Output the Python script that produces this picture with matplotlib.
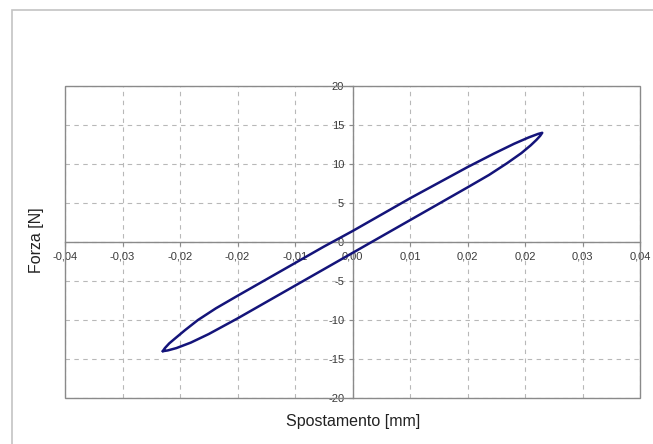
import matplotlib
matplotlib.use("Agg")
import matplotlib.pyplot as plt
from matplotlib.patches import Rectangle

plt.rcParams['font.family'] = ['Liberation Sans', 'DejaVu Sans']

# ---- data ----
# upper branch (lower-left tip -> upper-right tip)
upper_x = [-0.0264, -0.0261, -0.0255, -0.0246, -0.0233, -0.0215, -0.0190, -0.0160,
           -0.0120, -0.0080, -0.0040, 0.0000, 0.0040, 0.0080, 0.0120, 0.0160,
           0.0196, 0.0225, 0.0245, 0.0258, 0.0264]
upper_y = [-14.0, -13.6, -13.0, -12.3, -11.3, -10.0, -8.5, -6.9,
           -4.8, -2.7, -0.6, 1.4, 3.5, 5.6, 7.6, 9.6,
           11.3, 12.6, 13.4, 13.85, 14.0]
# lower branch (upper-right tip -> lower-left tip)
lower_x = [0.0264, 0.0261, 0.0256, 0.0248, 0.0235, 0.0215, 0.0190, 0.0160,
           0.0120, 0.0080, 0.0040, 0.0000, -0.0040, -0.0080, -0.0120, -0.0160,
           -0.0200, -0.0225, -0.0245, -0.0257, -0.0264]
lower_y = [14.0, 13.6, 13.1, 12.4, 11.4, 10.1, 8.6, 7.0,
           4.9, 2.8, 0.7, -1.4, -3.5, -5.6, -7.7, -9.8,
           -11.8, -12.9, -13.6, -13.9, -14.0]

x_ticks = [-0.04, -0.032, -0.024, -0.016, -0.008, 0.0, 0.008, 0.016, 0.024, 0.032, 0.04]
x_tick_labels = ["-0,04", "-0,03", "-0,02", "-0,02", "-0,01", "0,00",
                 "0,01", "0,02", "0,02", "0,03", "0,04"]
y_ticks = [-20, -15, -10, -5, 0, 5, 10, 15, 20]
y_tick_labels = ["-20", "-15", "-10", "-5", "0", "5", "10", "15", "20"]

x_label = "Spostamento [mm]"
y_label = "Forza [N]"

# ---- figure ----
W, H = 653, 444
fig = plt.figure(figsize=(W / 100, H / 100), dpi=100)
fig.patch.set_facecolor("white")

# outer chart-area border
fig.patches.append(Rectangle((12.5 / W, -0.2), 1.5, 1 - 10 / H + 0.2,
                             transform=fig.transFigure, fill=False,
                             edgecolor="#c4c4c4", lw=1.2))

left, right, top, bottom = 65, 640, 86, 398
ax = fig.add_axes([left / W, 1 - bottom / H, (right - left) / W, (bottom - top) / H])

loop_x = upper_x + lower_x
loop_y = upper_y + lower_y
ax.plot(loop_x, loop_y, color="#14147a", lw=1.8, solid_joinstyle="round",
        solid_capstyle="round", zorder=5)

ax.set_xlim(-0.04, 0.04)
ax.set_ylim(-20, 20)
ax.set_xticks(x_ticks)
ax.set_xticklabels(x_tick_labels)
ax.set_yticks(y_ticks)
ax.set_yticklabels(y_tick_labels)

axis_col = "#8a8a8a"
for s in ["top", "right"]:
    ax.spines[s].set_visible(False)
ax.spines["left"].set_position("zero")
ax.spines["bottom"].set_position("zero")
for s in ["left", "bottom"]:
    ax.spines[s].set_color(axis_col)
    ax.spines[s].set_linewidth(1.0)

ax.add_patch(Rectangle((0, 0), 1, 1, transform=ax.transAxes, fill=False,
                       edgecolor=axis_col, lw=1.0, clip_on=False, zorder=3))

ax.grid(True, color="#b8b8b8", linestyle=(0, (4, 4)), lw=0.8)
ax.set_axisbelow(True)

ax.tick_params(axis="both", colors=axis_col, labelcolor="#3a3a3a",
               labelsize=8, length=3, width=0.8, direction="out")
ax.tick_params(axis="x", pad=4)
ax.tick_params(axis="y", pad=3)

fig.text(353 / W, 1 - 421 / H, x_label, ha="center", va="center",
         fontsize=11.5, color="#222222")
fig.text(36 / W, 1 - 240 / H, y_label, ha="center", va="center",
         rotation=90, fontsize=11.5, color="#222222")

fig.savefig("out.png", dpi=100, facecolor="white")
